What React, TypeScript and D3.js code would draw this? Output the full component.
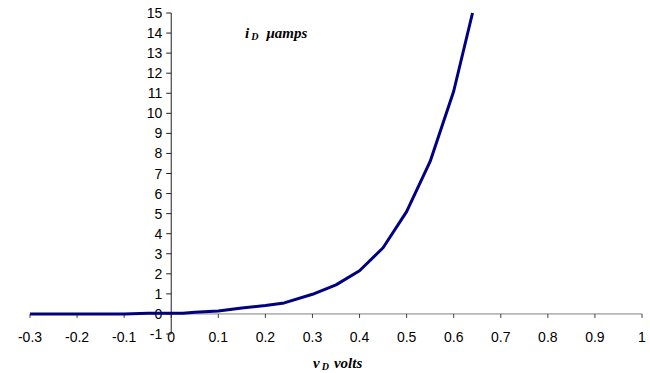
import React, { useEffect, useRef } from 'react';
import * as d3 from 'd3';

// diode forward characteristic
const vD = [-0.3, -0.25, -0.2, -0.15, -0.1, -0.05, 0, 0.025, 0.05, 0.1, 0.15, 0.2, 0.24, 0.3, 0.35, 0.4, 0.45, 0.5, 0.55, 0.6, 0.64];
const iD = [0, 0, 0, 0, 0, 0.04, 0.04, 0.04, 0.08, 0.15, 0.3, 0.42, 0.55, 0.98, 1.45, 2.15, 3.3, 5.1, 7.6, 11.1, 15];
const xTicks = [-0.3, -0.2, -0.1, 0, 0.1, 0.2, 0.3, 0.4, 0.5, 0.6, 0.7, 0.8, 0.9, 1];
const yTicks = d3.range(-1, 16);

const App = () => {
  const svgRef = useRef<SVGSVGElement>(null);

  useEffect(() => {
    const svg = d3.select(svgRef.current);
    svg.selectAll('*').remove();

    const x = d3.scaleLinear().domain([-0.3, 1]).range([30, 642]);
    const y = d3.scaleLinear().domain([-1, 15]).range([334, 13]);

    const font = 'Arial, "Liberation Sans", sans-serif';

    // x axis sits at i = 0
    const xAxis = svg.append('g').attr('transform', `translate(0, ${y(0)})`);
    xAxis
      .append('line')
      .attr('x1', x(-0.3))
      .attr('x2', x(1))
      .attr('stroke', '#808080')
      .attr('stroke-width', 1);
    xAxis
      .selectAll('line.tick')
      .data(xTicks)
      .enter()
      .append('line')
      .attr('class', 'tick')
      .attr('x1', (d) => x(d))
      .attr('x2', (d) => x(d))
      .attr('y1', 0)
      .attr('y2', 4)
      .attr('stroke', '#404040');

    // x tick labels at the bottom
    svg
      .append('g')
      .selectAll('text')
      .data(xTicks)
      .enter()
      .append('text')
      .attr('x', (d) => x(d))
      .attr('y', 342)
      .attr('text-anchor', 'middle')
      .attr('font-family', font)
      .attr('font-size', 14)
      .text((d) => String(+d.toFixed(1)));

    // y axis at v = 0
    const yAxis = svg.append('g').attr('transform', `translate(${x(0)}, 0)`);
    yAxis
      .append('line')
      .attr('y1', y(15))
      .attr('y2', y(-1))
      .attr('stroke', '#202020');
    yAxis
      .selectAll('line.tick')
      .data(yTicks)
      .enter()
      .append('line')
      .attr('class', 'tick')
      .attr('x1', -5)
      .attr('x2', 0)
      .attr('y1', (d) => y(d))
      .attr('y2', (d) => y(d))
      .attr('stroke', '#202020');
    yAxis
      .selectAll('text')
      .data(yTicks)
      .enter()
      .append('text')
      .attr('x', -9)
      .attr('y', (d) => y(d))
      .attr('dy', '0.36em')
      .attr('text-anchor', 'end')
      .attr('font-family', font)
      .attr('font-size', 14)
      .text((d) => d);

    // curve
    const pts: [number, number][] = vD.map((v, i) => [v, iD[i]]);
    const line = d3
      .line<[number, number]>()
      .x((d) => x(d[0]))
      .y((d) => y(d[1]));
    svg
      .append('path')
      .datum(pts)
      .attr('d', line)
      .attr('fill', 'none')
      .attr('stroke', '#000080')
      .attr('stroke-width', 3)
      .attr('stroke-linejoin', 'round');

    // axis titles
    const serif = '"Liberation Serif", "Times New Roman", serif';
    const yTitle = svg
      .append('text')
      .attr('x', 245)
      .attr('y', 38)
      .attr('font-family', serif)
      .attr('font-size', 15)
      .attr('font-weight', 'bold')
      .attr('font-style', 'italic');
    yTitle.append('tspan').text('i');
    yTitle.append('tspan').attr('font-size', 10).attr('dy', 2).attr('dx', 2).text('D');
    yTitle.append('tspan').attr('dy', -2).attr('dx', 8).text('μamps');

    const xTitle = svg
      .append('text')
      .attr('x', 313)
      .attr('y', 368)
      .attr('font-family', serif)
      .attr('font-size', 15)
      .attr('font-weight', 'bold')
      .attr('font-style', 'italic');
    xTitle.append('tspan').text('v');
    xTitle.append('tspan').attr('font-size', 10).attr('dy', 2).attr('dx', 2).text('D');
    xTitle.append('tspan').attr('dy', -2).attr('dx', 5).text('volts');
  }, []);

  return (
    <svg
      ref={svgRef}
      width={650}
      height={373}
      style={{ position: 'absolute', left: 0, top: 0, background: '#fff' }}
    />
  );
};

export default App;
